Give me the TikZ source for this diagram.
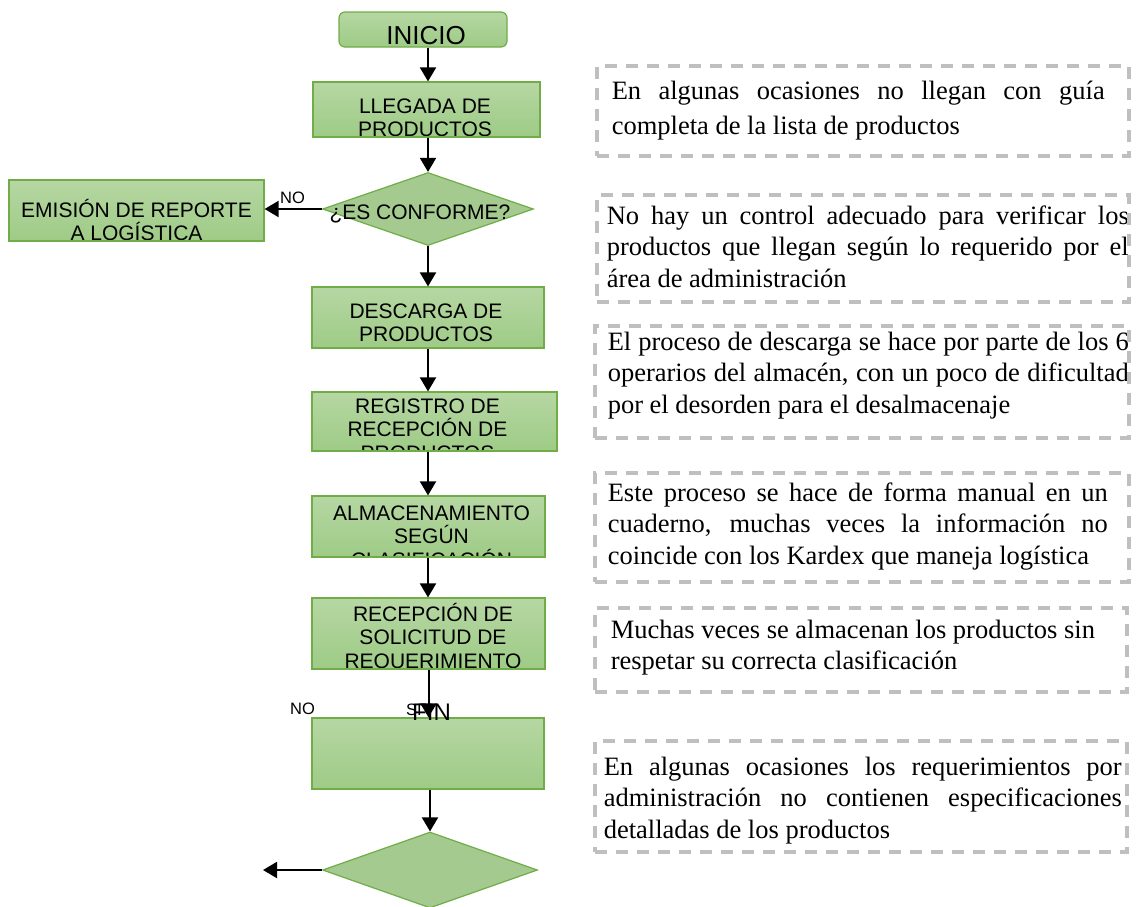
\documentclass[tikz,border=0pt]{standalone}
\usepackage{fontspec}
\setmainfont{Liberation Serif}
\newfontfamily\arialf{Liberation Sans}
\usetikzlibrary{arrows.meta,shapes.geometric,calc}
\definecolor{CajaBorde}{RGB}{112,173,71}
\definecolor{CajaArriba}{RGB}{182,215,163}
\definecolor{CajaAbajo}{RGB}{158,203,134}
\definecolor{RomboClr}{RGB}{164,202,144}
\definecolor{NotaClr}{RGB}{191,191,191}

\begin{document}
\begin{tikzpicture}[x=1pt,y=-1pt,
  caja/.style={draw=CajaBorde,line width=1.2pt,top color=CajaArriba,bottom color=CajaAbajo,inner sep=0pt},
  rombo/.style={diamond,draw=CajaBorde,line width=1.2pt,fill=RomboClr,inner sep=0pt},
  flecha/.style={line width=2pt,-{Triangle[length=14pt,width=16pt]}},
  texto/.style={font=\arialf\fontsize{21}{23.5}\selectfont,inner sep=0pt},
  etiqueta/.style={font=\arialf\fontsize{16.5}{18}\selectfont,inner sep=0pt},
  rotulo/.style n args={3}{path picture={\node[texto,anchor=base] at ([xshift=#1,yshift=#2]path picture bounding box.north) {\parbox[t]{320pt}{\centering\lineskiplimit=-100pt\relax #3}};}},
  nota/.style={draw=NotaClr,line width=3.5pt,dash pattern=on 12pt off 9pt,inner sep=0pt,minimum width=532pt},
  textonota/.style={font=\fontsize{26.5}{31.5}\selectfont,inner sep=0pt},
  apunte/.style n args={3}{path picture={\node[textonota,anchor=base west] at ([xshift=#1,yshift=#2]path picture bounding box.north west) {\parbox[t]{560pt}{\raggedright\lineskiplimit=-100pt\relax #3}};}}]
\useasboundingbox (0,0) rectangle (1140,906);

% flujo principal
\node[caja,rounded corners=6pt,minimum width=168pt,minimum height=35pt,
  rotulo={3pt}{-32pt}{\fontsize{26}{28}\selectfont INICIO}] (inicio) at (423,29.5) {};
\node[caja,minimum width=227pt,minimum height=55pt,
  rotulo={-1.5pt}{-31pt}{LLEGADA DE\\PRODUCTOS}] (llegada) at (426.5,109.5) {};
\node[rombo,minimum width=211pt,minimum height=73pt] (conforme) at (428,209) {};
\node[texto,anchor=base] (tconforme) at (420,219) {¿ES CONFORME?};
\node[caja,minimum width=255pt,minimum height=61pt,
  rotulo={0pt}{-37pt}{EMISIÓN DE REPORTE\\A LOGÍSTICA}] (emision) at (136.5,210.5) {};
\node[caja,minimum width=232pt,minimum height=61pt,
  rotulo={-2pt}{-31pt}{DESCARGA DE\\PRODUCTOS}] (descarga) at (428,317.5) {};
\node[caja,minimum width=245pt,minimum height=59pt,
  rotulo={-7pt}{-21pt}{REGISTRO DE\\RECEPCIÓN DE\\PRODUCTOS}] (registro) at (434.5,421.5) {};
\node[caja,minimum width=233pt,minimum height=61pt,
  rotulo={3pt}{-24pt}{ALMACENAMIENTO\\SEGÚN\\CLASIFICACIÓN}] (almacen) at (428.5,526.5) {};
\node[caja,minimum width=233pt,minimum height=71pt,
  rotulo={4.5pt}{-23pt}{RECEPCIÓN DE\\SOLICITUD DE\\REQUERIMIENTO}] (recepcion) at (428.5,633.5) {};
\node[caja,minimum width=232pt,minimum height=71pt] (blanco) at (428,753.5) {};
\node[rombo,minimum width=215pt,minimum height=76pt] (decision) at (430,870) {};
\coordinate (salida) at (263,870);

\draw[flecha] (inicio.south -| conforme) -- (llegada.north -| conforme);
\draw[flecha] (llegada.south -| conforme) -- (conforme.north);
\draw[flecha] (conforme.west) -- (conforme.west -| emision.east);
\draw[flecha] (conforme.south) -- (descarga.north -| conforme);
\draw[flecha] (descarga.south -| conforme) -- (registro.north -| conforme);
\draw[flecha] (registro.south -| conforme) -- (almacen.north -| conforme);
\draw[flecha] (almacen.south -| conforme) -- (recepcion.north -| conforme);
\draw[flecha] (recepcion.south) -- (recepcion.south |- blanco.north);
\draw[flecha] (blanco.south -| decision) -- (decision.north);
\draw[flecha] (decision.west) -- (salida);

\node[etiqueta,anchor=base west] (no1) at (280,203) {NO};
\node[etiqueta,anchor=base west] (no2) at (290,714) {NO};
\node[etiqueta,anchor=base west] (si) at (406,715) {SI};
\node[texto,font=\arialf\fontsize{24}{26}\selectfont,anchor=base] (fin) at (431.5,720) {FIN};

% observaciones
\node[nota,minimum height=90pt,apunte={13pt}{-33pt}{%
  \makebox[493pt][s]{En algunas ocasiones no llegan con guía}\\[3.5pt]
  completa de la lista de productos}] (obs1) at (863,111) {};
\node[nota,minimum height=107pt,apunte={8pt}{-29pt}{%
  \makebox[522pt][s]{No hay un control adecuado para verificar los}\\
  \makebox[522pt][s]{productos que llegan según lo requerido por el}\\
  área de administración}] (obs2) at (863,248.5) {};
\node[nota,minimum width=534pt,minimum height=112pt,apunte={11pt}{-24pt}{%
  \makebox[521pt][s]{El proceso de descarga se hace por parte de los 6}\\
  \makebox[521pt][s]{operarios del almacén, con un poco de dificultad}\\
  por el desorden para el desalmacenaje}] (obs3) at (862,382) {};
\node[nota,minimum width=534pt,minimum height=109pt,apunte={11pt}{-28pt}{%
  \makebox[500pt][s]{Este proceso se hace de forma manual en un}\\
  \makebox[500pt][s]{cuaderno, muchas veces la información no}\\
  coincide con los Kardex que maneja logística}] (obs4) at (862,527.5) {};
\node[nota,minimum height=84pt,apunte={14pt}{-30pt}{%
  Muchas veces se almacenan los productos sin\\
  respetar su correcta clasificación}] (obs5) at (861,650) {};
\node[nota,minimum height=111pt,apunte={7pt}{-34pt}{%
  \makebox[518pt][s]{En algunas ocasiones los requerimientos por}\\
  \makebox[518pt][s]{administración no contienen especificaciones}\\
  detalladas de los productos}] (obs6) at (861,796.5) {};
\end{tikzpicture}
\end{document}
